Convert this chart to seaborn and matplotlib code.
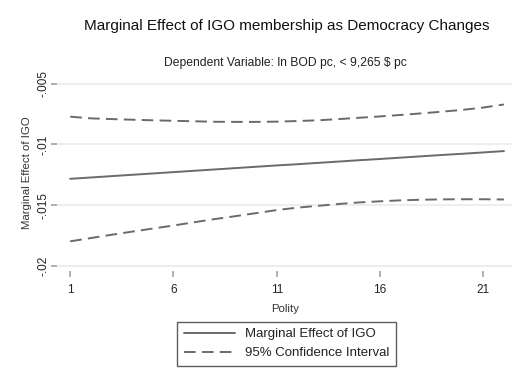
import matplotlib
matplotlib.use("Agg")
import matplotlib.pyplot as plt
import seaborn as sns
import pandas as pd
import numpy as np

# Polity score values at which the marginal effect is evaluated
polity = [1, 2, 3, 4, 5, 6, 7, 8, 9, 10, 11,
          12, 13, 14, 15, 16, 17, 18, 19, 20, 21, 22]

# Marginal effect of IGO membership
effect = [-0.01283, -0.01272, -0.01261, -0.01250, -0.01239, -0.01228,
          -0.01217, -0.01206, -0.01195, -0.01184, -0.01173, -0.01163,
          -0.01152, -0.01141, -0.01130, -0.01120, -0.01109, -0.01098,
          -0.01087, -0.01077, -0.01066, -0.01055]

# 95% confidence bounds
upper_ci = [-0.00772, -0.00786, -0.00792, -0.00797, -0.00802, -0.00806,
            -0.00810, -0.00814, -0.00815, -0.00815, -0.00813, -0.00808,
            -0.00802, -0.00792, -0.00781, -0.00770, -0.00758, -0.00745,
            -0.00731, -0.00716, -0.00697, -0.00672]
lower_ci = [-0.01797, -0.01770, -0.01743, -0.01717, -0.01692, -0.01667,
            -0.01640, -0.01614, -0.01590, -0.01565, -0.01540, -0.01520,
            -0.01505, -0.01490, -0.01477, -0.01468, -0.01460, -0.01455,
            -0.01452, -0.01451, -0.01451, -0.01453]

x_ticks = [1, 6, 11, 16, 21]
y_ticks = [-0.02, -0.015, -0.01, -0.005]
y_tick_labels = ["-.02", "-.015", "-.01", "-.005"]

sns.set_theme(style="white")
plt.rcParams["font.family"] = ["Liberation Sans", "DejaVu Sans"]

df = pd.DataFrame({"polity": polity, "effect": effect,
                   "upper": upper_ci, "lower": lower_ci})

fig = plt.figure(figsize=(5.2, 3.81), dpi=100)
ax = fig.add_axes([0.110, 0.289, 0.875, 0.514])

line_color = "#6a6a6a"
sns.lineplot(data=df, x="polity", y="effect", ax=ax, color=line_color,
             linewidth=1.4, label="Marginal Effect of IGO")
sns.lineplot(data=df, x="polity", y="upper", ax=ax, color=line_color,
             linewidth=1.4, label="95% Confidence Interval")
sns.lineplot(data=df, x="polity", y="lower", ax=ax, color=line_color,
             linewidth=1.4, label="_nolegend_")
for ln in ax.lines[1:]:
    ln.set_linestyle((0, (6, 3.2)))

ax.set_xlim(0.37, 22.4)
ax.set_ylim(-0.0204, -0.0043)
ax.set_xticks(x_ticks)
ax.set_xticklabels([str(t) for t in x_ticks], fontsize=8.5, color="#222222")
ax.set_yticks(y_ticks)
ax.set_yticklabels(y_tick_labels, fontsize=8.5, color="#222222",
                   rotation=90, va="center")
ax.grid(axis="y", color="#eeeeee", linewidth=1.5)
ax.grid(axis="x", visible=False)
for s in ax.spines.values():
    s.set_visible(False)
ax.tick_params(axis="both", which="both", length=4, width=1.1,
               color="#999999", bottom=True, left=True)
ax.tick_params(axis="x", pad=5.5)
ax.tick_params(axis="y", pad=1.5)

ax.set_xlabel("Polity", fontsize=8.2, color="#333333", labelpad=6)
ax.set_ylabel("Marginal Effect of IGO", fontsize=8.2, color="#333333",
              labelpad=4)

fig.text(0.552, 0.933, "Marginal Effect of IGO membership as Democracy Changes",
         ha="center", va="center", fontsize=11, color="#111111")
fig.text(0.548, 0.835, "Dependent Variable: ln BOD pc, < 9,265 $ pc",
         ha="center", va="center", fontsize=8.7, color="#222222")

leg = ax.legend(loc="center", bbox_to_anchor=(0.551, 0.098),
                bbox_transform=fig.transFigure, frameon=True, fancybox=False,
                fontsize=9.5, handlelength=3.9, handletextpad=0.7,
                borderpad=0.5, labelspacing=0.5, borderaxespad=0)
leg.get_frame().set_edgecolor("#333333")
leg.get_frame().set_linewidth(1.0)
for t in leg.get_texts():
    t.set_color("#222222")

fig.savefig("out.png", dpi=100, facecolor="white")
